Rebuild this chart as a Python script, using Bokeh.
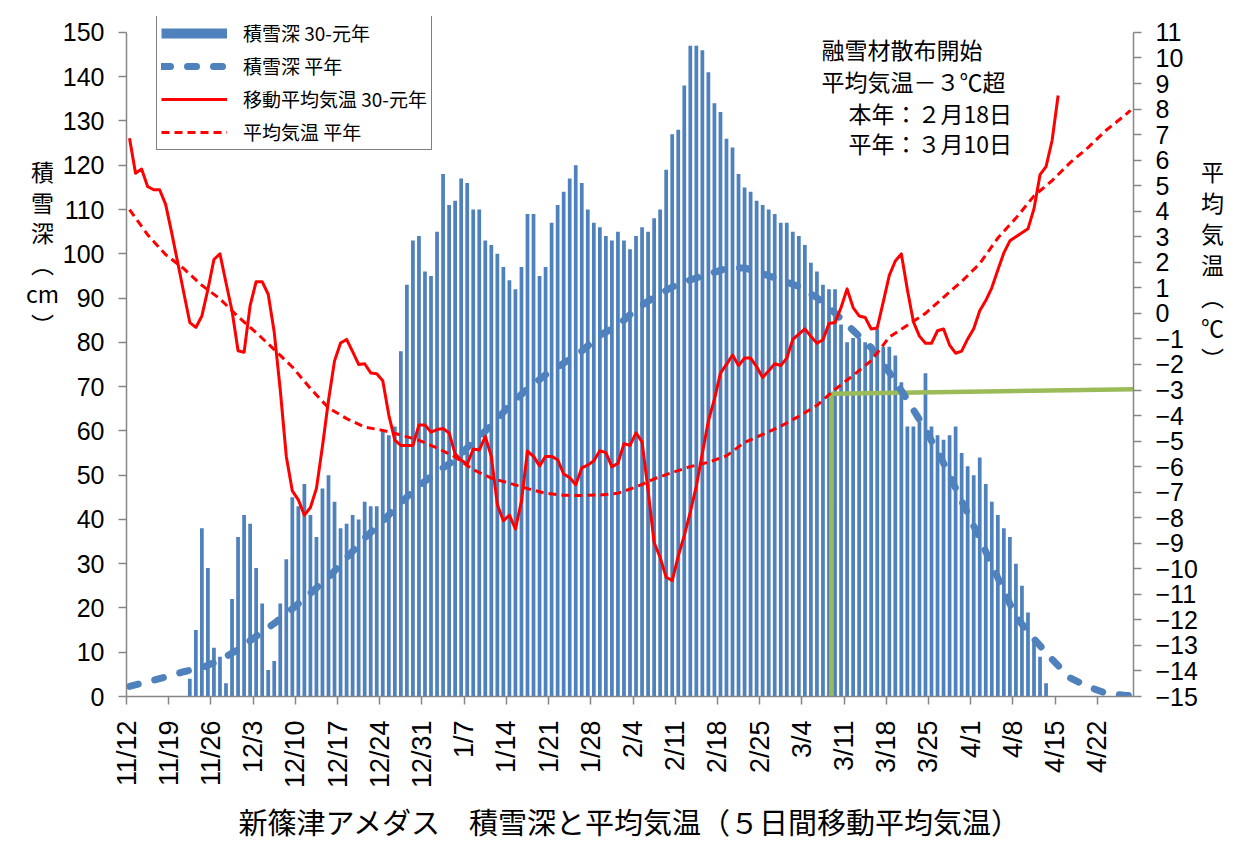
import math
from bokeh.plotting import figure
from bokeh.models import Range1d, LinearAxis, FixedTicker, Legend, LegendItem, Label, Title
from bokeh.embed import file_html
from bokeh.resources import INLINE

# ---------------- data ----------------
tick_labels = ["11/12", "11/19", "11/26", "12/3", "12/10", "12/17", "12/24", "12/31",
               "1/7", "1/14", "1/21", "1/28", "2/4", "2/11", "2/18", "2/25",
               "3/4", "3/11", "3/18", "3/25", "4/1", "4/8", "4/15", "4/22"]
n_days = 167  # 11/12 .. 4/27

# daily snow depth 30-元年 (cm), day index 0 = 11/12
snow_depth = [0, 0, 0, 0, 0, 0, 0, 0, 0, 0,
              4, 15, 38, 29, 11, 9, 3, 22, 36, 41,
              39, 29, 21, 6, 8, 21, 31, 45, 43, 48,
              41, 36, 47, 50, 44, 38, 39, 41, 40, 44,
              43, 43, 60, 59, 61, 78, 93, 103, 104, 96,
              95, 105, 118, 111, 112, 117, 116, 110, 110, 103,
              102, 100, 97, 94, 92, 97, 109, 109, 95, 97,
              107, 111, 114, 117, 120, 116, 110, 107, 106, 104,
              103, 105, 103, 101, 104, 106, 105, 108, 110, 119,
              127, 128, 138, 147, 147, 146, 141, 134, 132, 126,
              124, 118, 115, 114, 112, 111, 110, 109, 107, 107,
              105, 104, 102, 98, 96, 93, 92, 92, 84, 80,
              81, 81, 80, 79, 83, 79, 79, 77, 71, 61,
              61, 62, 73, 61, 59, 58, 59, 61, 55, 52,
              50, 54, 48, 44, 41, 38, 36, 30, 25, 19,
              13, 9, 3, 0, 0, 0, 0, 0, 0, 0,
              0, 0, 0, 0, 0, 0, 0]

# 5-day moving average temperature 30-元年 (deg C), day 0 .. 154
temp_ma = [6.86, 5.49, 5.65, 4.97, 4.84, 4.84, 4.26, 3.15, 1.98, 0.81,
           -0.36, -0.55, -0.10, 0.94, 2.11, 2.33, 1.20, 0.10, -1.46, -1.52,
           0.30, 1.24, 1.24, 0.75, -0.74, -3.0, -5.6, -6.95, -7.3, -7.9,
           -7.6, -6.85, -5.2, -3.4, -1.86, -1.16, -1.02, -1.5, -2.0, -1.97,
           -2.33, -2.36, -2.64, -3.98, -4.96, -5.17, -5.17, -5.17, -4.37, -4.37,
           -4.65, -4.55, -4.51, -4.68, -5.5, -5.75, -5.9, -5.31, -5.35, -4.82,
           -5.6, -7.49, -8.12, -7.9, -8.44, -7.35, -5.39, -5.6, -5.97, -5.6,
           -5.6, -5.73, -6.29, -6.43, -6.71, -6.05, -5.94, -5.77, -5.38, -5.45,
           -6.01, -5.87, -5.1, -5.17, -4.68, -5.03, -6.93, -8.97, -9.56, -10.33,
           -10.46, -9.5, -8.7, -7.78, -6.76, -5.48, -4.21, -3.36, -2.34, -2.0,
           -1.63, -2.04, -1.75, -1.75, -2.09, -2.51, -2.25, -1.97, -2.04, -1.75,
           -1.02, -0.81, -0.61, -0.9, -1.17, -1.03, -0.4, -0.36, 0.23, 0.96,
           0.23, -0.1, -0.16, -0.61, -0.57, 0.45, 1.49, 2.05, 2.33, 0.93,
           -0.33, -0.89, -1.17, -1.17, -0.68, -0.61, -1.24, -1.56, -1.48, -1.0,
           -0.6, 0.1, 0.5, 1.0, 1.7, 2.37, 2.84, 3.0, 3.16, 3.31,
           4.1, 5.43, 5.75, 6.77, 8.53]

# normals (平年), read every 3 days
normal_days = [0, 3, 6, 9, 12, 15, 18, 21, 24, 27, 30, 33, 36, 39, 42, 45, 48, 51, 54,
               57, 60, 63, 66, 69, 72, 75, 78, 81, 84, 87, 90, 93, 96, 99, 102, 105,
               108, 111, 114, 117, 120, 123, 126, 129, 132, 135, 138, 141, 144, 147,
               150, 153, 156, 159, 162, 165, 166]
normal_snow = [2.3, 3.3, 4.4, 5.6, 6.5, 8.2, 10.6, 13.6, 16.5, 19.8, 23.3, 26.9, 31.3,
               35.8, 39.6, 43.8, 47.6, 50.7, 53.5, 57.5, 61.2, 65.7, 69.5, 72.7, 75.3,
               78.0, 81.6, 83.8, 87.5, 90.2, 92.5, 94.1, 95.4, 96.7, 96.8, 95.5, 94.1,
               92.6, 90.1, 86.6, 82.7, 78.8, 73.2, 67.0, 60.3, 52.7, 44.2, 35.7, 26.8,
               18.0, 13.0, 8.4, 4.2, 2.2, 0.7, 0.3, 0.2]
normal_temp = [4.06, 3.08, 2.3, 1.75, 1.1, 0.57, -0.13, -0.75, -1.42, -2.1, -2.94, -3.7,
               -4.12, -4.45, -4.58, -4.76, -4.97, -5.27, -5.62, -6.12, -6.45, -6.65,
               -6.86, -7.04, -7.12, -7.13, -7.11, -7.04, -6.8, -6.48, -6.23, -6.0,
               -5.83, -5.58, -5.05, -4.74, -4.42, -4.03, -3.6, -2.98, -2.43, -1.85,
               -0.93, -0.46, 0.0, 0.63, 1.25, 1.95, 2.95, 3.73, 4.6, 5.2, 5.9, 6.5,
               7.18, 7.74, 7.95]

# 融雪材散布開始 marker (平年: -3℃ exceeded)
melt_day = 116.4
melt_temp_left = -3.15
melt_temp_right = -2.97

snow_min, snow_max = 0, 150
temp_min, temp_max = -15, 11

BLUE = "#4F81BD"
RED = "#FF0000"
GREEN = "#9BBB59"
AXIS_GRAY = "#868686"
JP = "Noto Sans CJK JP"
NUM = "Liberation Sans"

# ---------------- figure ----------------
FRAME_H = 683          # frame height in px (axis part 667 px + 16 px head room for legend)
AXIS_H = 667
head = (FRAME_H - AXIS_H) / AXIS_H
p = figure(width=1225, height=847,
           x_range=Range1d(0, n_days),
           y_range=Range1d(snow_min, snow_max + (snow_max - snow_min) * head),
           output_backend="svg", toolbar_location=None, title=None,
           min_border_left=126, min_border_right=92, min_border_top=16,
           min_border_bottom=148)
p.extra_y_ranges = {"temp": Range1d(temp_min, temp_max + (temp_max - temp_min) * head)}
p.grid.visible = False
p.outline_line_color = None
p.background_fill_color = "white"
p.border_fill_color = "white"

# bars
bx = [i + 0.5 for i, v in enumerate(snow_depth) if v > 0]
bt = [v for v in snow_depth if v > 0]
p.vbar(x=bx, top=bt, bottom=0, width=0.62, fill_color=BLUE, line_color=None)

# green marker line
gx = [melt_day + 0.5, melt_day + 0.5, n_days]
gy = [temp_min, melt_temp_left, melt_temp_right]
p.line(gx, gy, y_range_name="temp", line_color=GREEN, line_width=4.5)

# normal snow depth
nx = [d + 0.5 for d in normal_days]
r_nsnow = p.line(nx, normal_snow, line_color=BLUE, line_width=7, line_dash="9 17",
                 line_cap="round", line_join="round")

# normal temperature
r_ntemp = p.line(nx, normal_temp, y_range_name="temp", line_color=RED, line_width=3,
                 line_dash="8 5")

# moving average temperature
tx = [i + 0.5 for i in range(len(temp_ma))]
r_temp = p.line(tx, temp_ma, y_range_name="temp", line_color=RED, line_width=3,
                line_join="round")

# legend-only renderer for the bar series (thick bar swatch, no visible data)
r_bar_leg = p.line([0.5, 1.5], [float("nan"), float("nan")], line_color=BLUE, line_width=10)

# ---------------- axes ----------------
def style_axis(ax, size="25px"):
    ax.axis_line_color = AXIS_GRAY
    ax.axis_line_width = 1.5
    ax.major_tick_line_color = AXIS_GRAY
    ax.major_tick_line_width = 1.5
    ax.major_tick_out = 8
    ax.major_tick_in = 0
    ax.minor_tick_line_color = None
    ax.major_label_text_font = NUM
    ax.major_label_text_font_size = size
    ax.major_label_text_color = "black"

yax = p.yaxis[0]
yax.ticker = FixedTicker(ticks=list(range(snow_min, snow_max + 1, 10)))
yax.bounds = (snow_min, snow_max)
style_axis(yax)
yax.major_label_standoff = 14

rax = LinearAxis(y_range_name="temp", ticker=FixedTicker(ticks=list(range(temp_min, temp_max + 1))))
rax.bounds = (temp_min, temp_max)
rax.major_label_overrides = {t: ("\u2212" + str(-t) if t < 0 else str(t))
                             for t in range(temp_min, temp_max + 1)}
style_axis(rax)
rax.major_label_standoff = 14
p.add_layout(rax, "right")

xax = p.xaxis[0]
xticks = [7 * k for k in range(len(tick_labels))]
xax.ticker = FixedTicker(ticks=xticks)
xax.major_label_overrides = {t: lab for t, lab in zip(xticks, tick_labels)}
xax.major_label_orientation = math.pi / 2
style_axis(xax, "27px")
xax.major_label_standoff = 16

# ---------------- legend ----------------
legend = Legend(items=[
    LegendItem(label="積雪深 30-元年", renderers=[r_bar_leg]),
    LegendItem(label="積雪深 平年", renderers=[r_nsnow]),
    LegendItem(label="移動平均気温 30-元年", renderers=[r_temp]),
    LegendItem(label="平均気温 平年", renderers=[r_ntemp]),
], location=(30, 546))
legend.label_text_font = JP
legend.label_text_font_size = "19px"
legend.label_text_color = "black"
legend.glyph_width = 66
legend.glyph_height = 20
legend.label_height = 20
legend.spacing = 6
legend.padding = 4
legend.margin = 0
legend.label_standoff = 16
legend.border_line_color = "black"
legend.border_line_width = 1.5
legend.background_fill_color = "white"
legend.background_fill_alpha = 1.0
p.add_layout(legend, "center")

# ---------------- texts ----------------
def make_label(txt, x, y, size, align="left", baseline="middle", line_height=1.2):
    return Label(x=x, y=y, x_units="screen", y_units="screen", text=txt,
                 text_font=JP, text_font_size=size, text_color="black",
                 text_align=align, text_baseline=baseline, text_line_height=line_height)

p.add_layout(make_label("融雪材散布開始", 695, 648, "23px"))
p.add_layout(make_label("平均気温－３℃超", 695, 616, "23px"))
p.add_layout(make_label("本年：２月18日", 722, 584, "23px"))
p.add_layout(make_label("平年：３月10日", 722, 554, "23px"))

# vertical axis titles in side panels
p.add_layout(make_label("積\n雪\n深\n︵\ncm\n︶", 16, 449, "23px", align="center",
                        line_height=0.9), "left")
p.add_layout(make_label("平\n均\n気\n温\n︵\n℃\n︶", 12, 432, "23px", align="center",
                        line_height=0.92), "right")

# chart title below
p.add_layout(Title(text="新篠津アメダス　積雪深と平均気温（５日間移動平均気温）",
                   align="center", text_font=JP, text_font_size="29px",
                   text_font_style="normal", text_color="black", standoff=12), "below")

open("out.html", "w").write(file_html(p, INLINE))
